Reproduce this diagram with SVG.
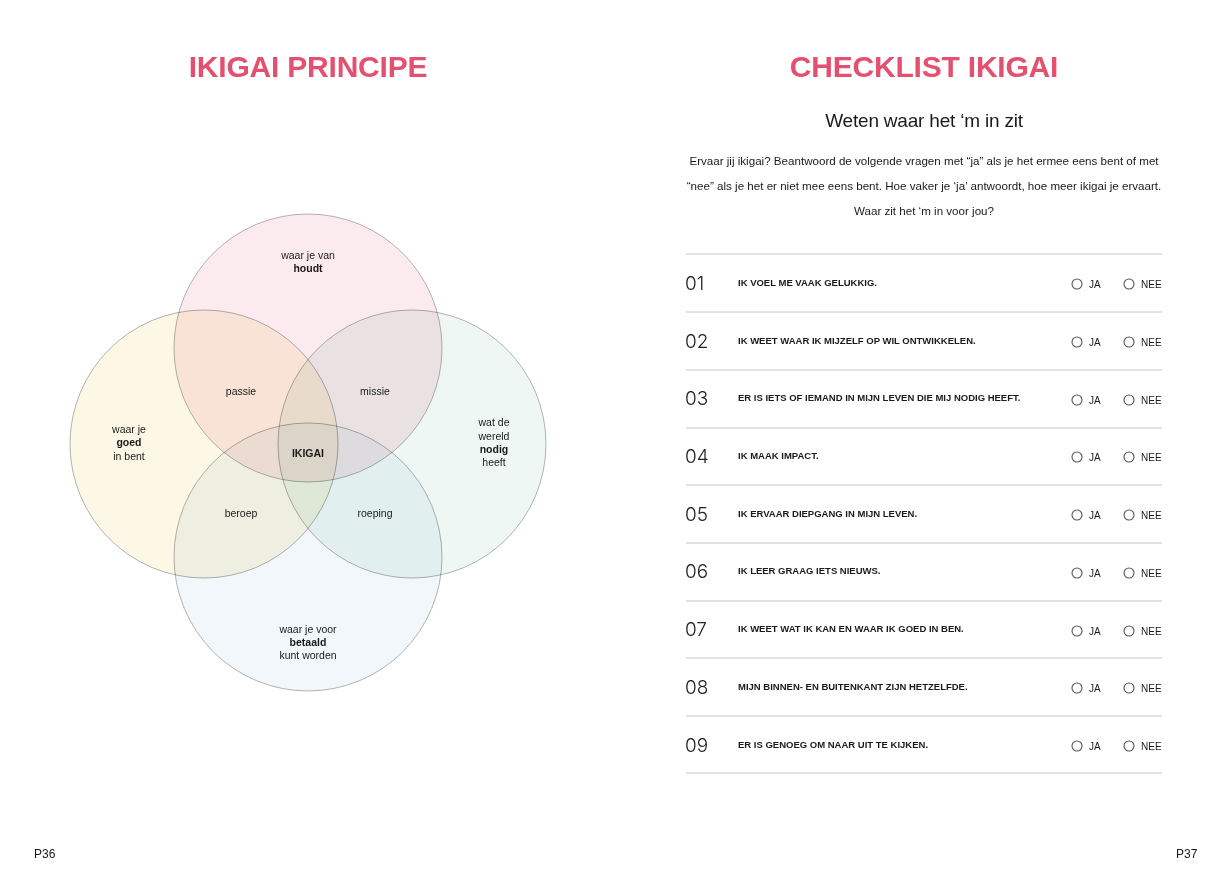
<svg xmlns="http://www.w3.org/2000/svg" width="1232" height="875" viewBox="0 0 1232 875">
<style>
.title{font-family:"Liberation Sans",Arial,sans-serif;font-weight:700;font-size:30px;letter-spacing:-0.2px;fill:#e4506f;text-anchor:middle}
.lbl{font-family:"Liberation Sans",Arial,sans-serif;font-size:10.5px;fill:#1a1a1a;text-anchor:middle}
.b{font-weight:700}
.circ{stroke:#a0a0a0;stroke-width:0.8;mix-blend-mode:multiply}
.sub{font-family:"Liberation Sans",Arial,sans-serif;font-size:19px;letter-spacing:-0.2px;fill:#1a1a1a;text-anchor:middle}
.para{font-family:"Liberation Sans",Arial,sans-serif;font-size:11.6px;fill:#1a1a1a;text-anchor:middle}
.num{font-family:Inter,"Liberation Sans",Arial,sans-serif;font-weight:300;font-size:19px;fill:#222}
.q{font-family:"Liberation Sans",Arial,sans-serif;font-size:9.5px;font-weight:700;fill:#1a1a1a}
.opt{font-family:"Liberation Sans",Arial,sans-serif;font-size:10px;fill:#1a1a1a}
.radio{fill:none;stroke:#555;stroke-width:1.1}
.rule{stroke:#c4c4c4;stroke-width:1}
.foot{font-family:"Liberation Sans",Arial,sans-serif;font-size:12px;fill:#1a1a1a}
</style>
<rect width="1232" height="875" fill="#ffffff"/>
<text class="title" x="308" y="77">IKIGAI PRINCIPE</text>
<text class="title" x="924" y="77">CHECKLIST IKIGAI</text>
<g id="venn" style="isolation:isolate">
<g id="circle-houdt"><circle class="circ" cx="308" cy="348" r="134" fill="#fbeaee"/></g>
<g id="circle-goed"><circle class="circ" cx="204" cy="444" r="134" fill="#fdf7e6"/></g>
<g id="circle-nodig"><circle class="circ" cx="412" cy="444" r="134" fill="#eef7f3"/></g>
<g id="circle-betaald"><circle class="circ" cx="308" cy="557" r="134" fill="#f1f7fa"/></g>
</g>
<g id="venn-labels">
<text class="lbl" x="308" y="259">waar je van</text>
<text class="lbl b" x="308" y="272">houdt</text>
<text class="lbl" x="241" y="395">passie</text>
<text class="lbl" x="375" y="395">missie</text>
<text class="lbl" x="129" y="433">waar je</text>
<text class="lbl b" x="129" y="446">goed</text>
<text class="lbl" x="129" y="460">in bent</text>
<text class="lbl" x="494" y="426">wat de</text>
<text class="lbl" x="494" y="440">wereld</text>
<text class="lbl b" x="494" y="453">nodig</text>
<text class="lbl" x="494" y="466">heeft</text>
<text class="lbl b" x="308" y="457">IKIGAI</text>
<text class="lbl" x="241" y="517">beroep</text>
<text class="lbl" x="375" y="517">roeping</text>
<text class="lbl" x="308" y="633">waar je voor</text>
<text class="lbl b" x="308" y="646">betaald</text>
<text class="lbl" x="308" y="659">kunt worden</text>
</g>
<text class="sub" x="924" y="127">Weten waar het ‘m in zit</text>
<text class="para" x="924" y="165">Ervaar jij ikigai? Beantwoord de volgende vragen met “ja” als je het ermee eens bent of met</text>
<text class="para" x="924" y="190">“nee” als je het er niet mee eens bent. Hoe vaker je ‘ja’ antwoordt, hoe meer ikigai je ervaart.</text>
<text class="para" x="924" y="215">Waar zit het ‘m in voor jou?</text>
<g id="rules">
<line class="rule" x1="686" y1="254" x2="1162" y2="254"/>
<line class="rule" x1="686" y1="312" x2="1162" y2="312"/>
<line class="rule" x1="686" y1="370" x2="1162" y2="370"/>
<line class="rule" x1="686" y1="428" x2="1162" y2="428"/>
<line class="rule" x1="686" y1="485" x2="1162" y2="485"/>
<line class="rule" x1="686" y1="543" x2="1162" y2="543"/>
<line class="rule" x1="686" y1="601" x2="1162" y2="601"/>
<line class="rule" x1="686" y1="658" x2="1162" y2="658"/>
<line class="rule" x1="686" y1="716" x2="1162" y2="716"/>
<line class="rule" x1="686" y1="773" x2="1162" y2="773"/>
</g>
<g id="row-01"><text class="num" x="685" y="290">01</text><text class="q" x="738" y="286">IK VOEL ME VAAK GELUKKIG.</text><circle class="radio" cx="1077" cy="284" r="5"/><text class="opt" x="1089" y="288">JA</text><circle class="radio" cx="1129" cy="284" r="5"/><text class="opt" x="1141" y="288">NEE</text></g>
<g id="row-02"><text class="num" x="685" y="348">02</text><text class="q" x="738" y="344">IK WEET WAAR IK MIJZELF OP WIL ONTWIKKELEN.</text><circle class="radio" cx="1077" cy="342" r="5"/><text class="opt" x="1089" y="346">JA</text><circle class="radio" cx="1129" cy="342" r="5"/><text class="opt" x="1141" y="346">NEE</text></g>
<g id="row-03"><text class="num" x="685" y="405">03</text><text class="q" x="738" y="401">ER IS IETS OF IEMAND IN MIJN LEVEN DIE MIJ NODIG HEEFT.</text><circle class="radio" cx="1077" cy="400" r="5"/><text class="opt" x="1089" y="404">JA</text><circle class="radio" cx="1129" cy="400" r="5"/><text class="opt" x="1141" y="404">NEE</text></g>
<g id="row-04"><text class="num" x="685" y="463">04</text><text class="q" x="738" y="459">IK MAAK IMPACT.</text><circle class="radio" cx="1077" cy="457" r="5"/><text class="opt" x="1089" y="461">JA</text><circle class="radio" cx="1129" cy="457" r="5"/><text class="opt" x="1141" y="461">NEE</text></g>
<g id="row-05"><text class="num" x="685" y="521">05</text><text class="q" x="738" y="517">IK ERVAAR DIEPGANG IN MIJN LEVEN.</text><circle class="radio" cx="1077" cy="515" r="5"/><text class="opt" x="1089" y="519">JA</text><circle class="radio" cx="1129" cy="515" r="5"/><text class="opt" x="1141" y="519">NEE</text></g>
<g id="row-06"><text class="num" x="685" y="578">06</text><text class="q" x="738" y="574">IK LEER GRAAG IETS NIEUWS.</text><circle class="radio" cx="1077" cy="573" r="5"/><text class="opt" x="1089" y="577">JA</text><circle class="radio" cx="1129" cy="573" r="5"/><text class="opt" x="1141" y="577">NEE</text></g>
<g id="row-07"><text class="num" x="685" y="636">07</text><text class="q" x="738" y="632">IK WEET WAT IK KAN EN WAAR IK GOED IN BEN.</text><circle class="radio" cx="1077" cy="631" r="5"/><text class="opt" x="1089" y="635">JA</text><circle class="radio" cx="1129" cy="631" r="5"/><text class="opt" x="1141" y="635">NEE</text></g>
<g id="row-08"><text class="num" x="685" y="694">08</text><text class="q" x="738" y="690">MIJN BINNEN- EN BUITENKANT ZIJN HETZELFDE.</text><circle class="radio" cx="1077" cy="688" r="5"/><text class="opt" x="1089" y="692">JA</text><circle class="radio" cx="1129" cy="688" r="5"/><text class="opt" x="1141" y="692">NEE</text></g>
<g id="row-09"><text class="num" x="685" y="752">09</text><text class="q" x="738" y="748">ER IS GENOEG OM NAAR UIT TE KIJKEN.</text><circle class="radio" cx="1077" cy="746" r="5"/><text class="opt" x="1089" y="750">JA</text><circle class="radio" cx="1129" cy="746" r="5"/><text class="opt" x="1141" y="750">NEE</text></g>
<text class="foot" x="34" y="858">P36</text>
<text class="foot" x="1176" y="858">P37</text>
</svg>
